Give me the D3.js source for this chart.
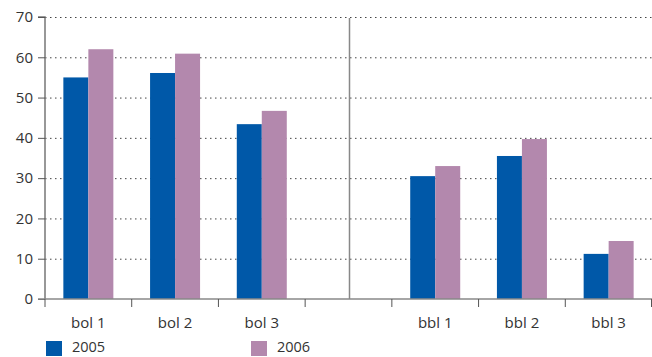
<!DOCTYPE html>
<html><head><meta charset="utf-8">
<script src="https://cdn.jsdelivr.net/npm/d3@7"></script>
<style>body{margin:0;background:#fff}svg{display:block}text{font-family:"Open Sans","Noto Sans",sans-serif;fill:#333}</style>
</head><body><svg id="c" width="652" height="357"></svg>
<script>
const categories = ["bol 1","bol 2","bol 3","","bbl 1","bbl 2","bbl 3"];
const series2005 = [55, 56.1, 43.4, null, 30.5, 35.5, 11.2];
const series2006 = [62, 60.9, 46.7, null, 33, 39.7, 14.4];
const seriesNames = ["2005","2006"];
const colors = ["#0058a8","#b388ad"];
const yTicks = [0,10,20,30,40,50,60,70];

(function(){
const svg = d3.select("#c");
const mL = 45, mR = 652, mT = 17, mB = 299;
const x = d3.scaleBand().domain(d3.range(categories.length)).range([mL, mR]);
const y = d3.scaleLinear().domain([0,70]).range([mB, mT]);
const barW = 25;

// grid
svg.append("g").selectAll("line").data(yTicks.filter(d=>d>0)).join("line")
  .attr("x1", mL).attr("x2", mR).attr("y1", d=>y(d)+0.5).attr("y2", d=>y(d)+0.5)
  .attr("stroke","#444").attr("stroke-width",1).attr("stroke-dasharray","1.5,3.5");

// bars
const data = categories.map((c,i)=>({i, vals:[series2005[i], series2006[i]]}));
const g = svg.append("g");
data.forEach(d=>{
  d.vals.forEach((v,k)=>{
    if(v==null) return;
    const cx = x(d.i) + x.bandwidth()/2;
    g.append("rect").attr("x", cx - barW + k*barW).attr("width", barW)
      .attr("y", y(v)).attr("height", y(0)-y(v)).attr("fill", colors[k]);
  });
});

// separator
svg.append("line").attr("x1", x(3)+x.bandwidth()/2+1).attr("x2", x(3)+x.bandwidth()/2+1)
  .attr("y1", mT+1).attr("y2", mB).attr("stroke","#888").attr("stroke-width",1.5);

// y axis
const yAxis = d3.axisLeft(y).tickValues(yTicks).tickSize(7).tickPadding(5);
const ya = svg.append("g").attr("transform",`translate(${mL},0)`).call(yAxis);
ya.select(".domain").attr("stroke","#777").attr("stroke-width",1.5).attr("d",`M-7,${mT}H0V${mB}`);
ya.selectAll(".tick line").attr("stroke","#555");
ya.selectAll("text").style("font-size","15px").attr("fill","#333");

// x axis
const xa = svg.append("g").attr("transform",`translate(0,${mB})`);
xa.append("line").attr("x1", mL-7).attr("x2", mR).attr("stroke","#888").attr("stroke-width",1.5);
xa.selectAll("line.t").data(d3.range(categories.length+1)).join("line").attr("class","t")
  .attr("x1", i=> i<categories.length ? x(i) : mR-0.5).attr("x2", i=> i<categories.length ? x(i) : mR-0.5)
  .attr("y1",0).attr("y2",8).attr("stroke","#555").attr("stroke-width",1);
xa.selectAll("text").data(categories).join("text")
  .attr("x",(d,i)=>x(i)+x.bandwidth()/2).attr("y",29).attr("text-anchor","middle")
  .style("font-size","15px").text(d=>d);

// legend
const legX = [46, 251];
seriesNames.forEach((n,k)=>{
  svg.append("rect").attr("x",legX[k]).attr("y",341).attr("width",16).attr("height",15).attr("fill",colors[k]);
  svg.append("text").attr("x",legX[k]+26).attr("y",352).style("font-size","14.5px").text(n);
});
})();
</script></body></html>
